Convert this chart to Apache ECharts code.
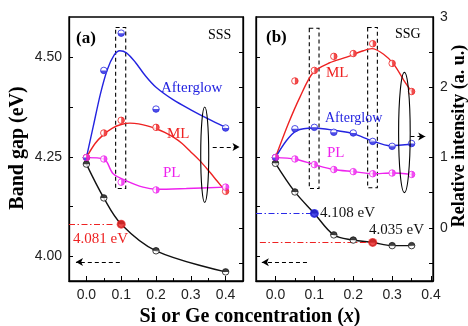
<!DOCTYPE html>
<html><head><meta charset="utf-8">
<script src="https://cdn.jsdelivr.net/npm/echarts@6/dist/echarts.min.js"></script>
<style>html,body{margin:0;padding:0;background:#fff}#c{width:468px;height:326px}</style>
</head><body><div id="c"></div>
<script>
// ---------- Panel (a) SSS ----------
const xA = [0, 0.05, 0.1, 0.2, 0.4];
const gapA = [4.232, 4.147, 4.081, 4.014, 3.961];
const aftA = [1.0, 2.24, 2.77, 1.69, 1.42];
const mlA  = [1.0, 1.35, 1.53, 1.43, 0.52];
const plA  = [1.0, 0.98, 0.65, 0.54, 0.58];
// fitted curves (a)
const aftFitAx = [0, 0.02, 0.04, 0.06, 0.08, 0.096, 0.115, 0.14, 0.17, 0.2, 0.25, 0.3, 0.35, 0.40];
const aftFitAy = [1.0, 1.45, 1.9, 2.25, 2.46, 2.52, 2.49, 2.36, 2.16, 2.0, 1.82, 1.68, 1.55, 1.43];
const mlFitAx  = [0, 0.025, 0.05, 0.075, 0.1, 0.125, 0.15, 0.175, 0.2, 0.225, 0.25, 0.275, 0.3, 0.325, 0.35, 0.375, 0.4];
const mlFitAy  = [1.0, 1.2, 1.33, 1.42, 1.47, 1.49, 1.48, 1.45, 1.41, 1.36, 1.29, 1.2, 1.08, 0.96, 0.82, 0.67, 0.52];
const plFitAx  = [0, 0.05, 0.077, 0.115, 0.163, 0.2, 0.287, 0.4];
const plFitAy  = [1.0, 0.98, 0.77, 0.67, 0.58, 0.55, 0.56, 0.58];

// ---------- Panel (b) SSG ----------
const xB = [0, 0.05, 0.1, 0.15, 0.2, 0.25, 0.3, 0.35];
const gapB = [4.234, 4.162, 4.108, 4.054, 4.041, 4.035, 4.027, 4.027];
const mlB  = [1.0, 2.09, 2.24, 2.44, 2.48, 2.62, 2.34, 1.94];
const aftB = [1.0, 1.41, 1.43, 1.36, 1.35, 1.23, 1.16, 1.20];
const plB  = [1.0, 0.98, 0.90, 0.83, 0.80, 0.77, 0.78, 0.76];
const mlFitBx  = [0, 0.033, 0.063, 0.097, 0.14, 0.183, 0.226, 0.248, 0.278, 0.304, 0.33, 0.351];
const mlFitBy  = [1.0, 1.48, 1.86, 2.21, 2.35, 2.43, 2.52, 2.55, 2.47, 2.33, 2.10, 1.93];
const aftFitBx = [0, 0.028, 0.054, 0.097, 0.149, 0.2, 0.248, 0.295, 0.351];
const aftFitBy = [1.0, 1.24, 1.38, 1.42, 1.39, 1.34, 1.24, 1.17, 1.19];

// ---------- axes ticks ----------
const xTicks = [0, 0.1, 0.2, 0.3, 0.4];
const xMinor = [0.05, 0.15, 0.25, 0.35];
const gapTicks = [4.0, 4.125, 4.25, 4.375, 4.5];
const gapLabels = [4.0, 4.25, 4.5];
const intTicks = [-0.5, 0, 0.5, 1, 1.5, 2, 2.5];
const intLabels = [0, 1, 2, 3];

const COL = {blue: '#2323e0', red: '#ee2222', mag: '#ee22ee', black: '#111111'};
const SERIF = '"Liberation Serif", "Times New Roman", serif';
const SANS = '"Liberation Sans", Arial, sans-serif';

const zip = (xs, ys) => xs.map((x, i) => [x, ys[i]]);

const HALF = {
  bottom: {path: 'path://M0,0L2,0C2,1.333 0,1.333 0,0Z', off: [0, 1.6]},
  top: {path: 'path://M0,0L2,0C2,-1.333 0,-1.333 0,0Z', off: [0, -1.6]},
  left: {path: 'path://M0,0L0,2C-1.333,2 -1.333,0 0,0Z', off: [-1.6, 0]},
  right: {path: 'path://M0,0L0,2C1.333,2 1.333,0 0,0Z', off: [1.6, 0]}
};

function markers(xs, ys, color, half, xi, yi) {
  const d = zip(xs, ys);
  return [
    {type: 'scatter', xAxisIndex: xi, yAxisIndex: yi, data: d, symbol: 'circle', symbolSize: 6.5,
     itemStyle: {color: '#fff', borderColor: color, borderWidth: 1}, z: 5, silent: true},
    {type: 'scatter', xAxisIndex: xi, yAxisIndex: yi, data: d, symbol: HALF[half].path, symbolKeepAspect: true,
     symbolSize: 6.5, symbolOffset: HALF[half].off, itemStyle: {color: color}, z: 6, silent: true}
  ];
}
function curve(xs, ys, color, xi, yi, smooth) {
  return {type: 'line', xAxisIndex: xi, yAxisIndex: yi, data: zip(xs, ys), smooth: smooth,
    showSymbol: false, symbol: 'none', lineStyle: {color: color, width: 1.4}, z: 3, silent: true};
}
function xAxes(grid, max) {
  return [
    {type: 'value', gridIndex: grid, min: -0.05, max: max, position: 'bottom',
     axisLine: {onZero: false, lineStyle: {color: '#000', width: 1.3}},
     axisTick: {inside: true, length: 5, customValues: xTicks, lineStyle: {color: '#000', width: 1}},
     axisLabel: {customValues: xTicks, formatter: v => v.toFixed(1), fontFamily: SANS, fontSize: 14, color: '#222', margin: 7},
     splitLine: {show: false}},
    {type: 'value', gridIndex: grid, min: -0.05, max: max, position: 'bottom',
     axisLine: {show: false, onZero: false},
     axisTick: {inside: true, length: 3, customValues: xMinor, lineStyle: {color: '#000', width: 1}},
     axisLabel: {show: false}, splitLine: {show: false}}
  ];
}
function yAxes(grid, gapLbl, intLbl) {
  return [
    {type: 'value', gridIndex: grid, min: 3.938, max: 4.602, position: 'left',
     axisLine: {show: true, onZero: false, lineStyle: {color: '#000', width: 1.3}},
     axisTick: {show: true, inside: true, length: 4, customValues: gapTicks, lineStyle: {color: '#000', width: 1}},
     axisLabel: {show: gapLbl, customValues: gapLabels, formatter: v => v.toFixed(2), fontFamily: SANS, fontSize: 14, color: '#222', margin: 7},
     splitLine: {show: false}},
    {type: 'value', gridIndex: grid, min: -0.756, max: 3.0, position: 'right',
     axisLine: {show: true, onZero: false, lineStyle: {color: '#000', width: 1.3}},
     axisTick: {show: true, inside: true, length: 4, customValues: intTicks, lineStyle: {color: '#000', width: 1}},
     axisLabel: {show: intLbl, customValues: intLabels, formatter: v => String(v), fontFamily: SANS, fontSize: 14, color: '#222', margin: 7},
     splitLine: {show: false}}
  ];
}

// annotation helpers (data coordinates)
function dashLine(from, to, color, dash, arrow) {
  return [{coord: from, lineStyle: {color: color, type: dash, width: 1.1}}, {coord: to, symbol: arrow ? 'arrow' : 'none'}];
}
function rectArea(x0, x1, y0, y1) {
  return [{coord: [x0, y1]}, {coord: [x1, y0]}];
}
const DASH = [4, 3];
const DASHDOT = [6, 2.5, 1.5, 2.5];

const series = [
  // panel a
  curve(xA, gapA, COL.black, 0, 0, 0.35),
  curve(aftFitAx, aftFitAy, COL.blue, 0, 1, 0.3),
  curve(mlFitAx, mlFitAy, COL.red, 0, 1, 0.3),
  curve(plFitAx, plFitAy, COL.mag, 0, 1, 0.35),
  ...markers(xA, gapA, COL.black, 'top', 0, 0),
  ...markers(xA, aftA, COL.blue, 'bottom', 0, 1),
  ...markers(xA, mlA, COL.red, 'right', 0, 1),
  ...markers(xA, plA, COL.mag, 'right', 0, 1),
  {type: 'scatter', xAxisIndex: 0, yAxisIndex: 0, data: [[xA[2], gapA[2]]], symbol: 'circle', symbolSize: 9,
   itemStyle: {color: COL.red}, z: 8, silent: true,
   markLine: {silent: true, symbol: ['none', 'none'], label: {show: false}, animation: false,
     data: [dashLine([-0.05, gapA[2]], [xA[2] - 0.02, gapA[2]], COL.red, DASHDOT, false)]}},
  {type: 'line', xAxisIndex: 0, yAxisIndex: 1, data: [], silent: true,
   markLine: {silent: true, symbol: ['none', 'arrow'], symbolSize: [6, 7], label: {show: false}, animation: false,
     data: [dashLine([0.363, 1.15], [0.44, 1.15], '#000', DASH, true)]},
   markArea: {silent: true, itemStyle: {color: 'rgba(0,0,0,0)', borderColor: '#000', borderWidth: 1.1, borderType: DASH},
     data: [rectArea(0.084, 0.113, 0.56, 2.85)]}},
  {type: 'line', xAxisIndex: 0, yAxisIndex: 0, data: [], silent: true,
   markLine: {silent: true, symbol: ['none', 'arrow'], symbolSize: [6, 7], label: {show: false}, animation: false,
     data: [dashLine([0.096, 3.986], [-0.03, 3.986], '#000', DASH, true)]}},

  // panel b
  curve(xB, gapB, COL.black, 2, 2, 0.35),
  curve(mlFitBx, mlFitBy, COL.red, 2, 3, 0.3),
  curve(aftFitBx, aftFitBy, COL.blue, 2, 3, 0.3),
  curve(xB, plB, COL.mag, 2, 3, 0.3),
  ...markers(xB, gapB, COL.black, 'top', 2, 2),
  ...markers(xB, mlB, COL.red, 'right', 2, 3),
  ...markers(xB, aftB, COL.blue, 'bottom', 2, 3),
  ...markers(xB, plB, COL.mag, 'right', 2, 3),
  {type: 'scatter', xAxisIndex: 2, yAxisIndex: 2, data: [[xB[2], gapB[2]]], symbol: 'circle', symbolSize: 9,
   itemStyle: {color: '#1e1ee8'}, z: 8, silent: true,
   markLine: {silent: true, symbol: ['none', 'none'], label: {show: false}, animation: false,
     data: [dashLine([-0.05, gapB[2]], [xB[2] - 0.005, gapB[2]], '#2a2ae8', DASHDOT, false)]}},
  {type: 'scatter', xAxisIndex: 2, yAxisIndex: 2, data: [[xB[5], gapB[5]]], symbol: 'circle', symbolSize: 9,
   itemStyle: {color: COL.red}, z: 8, silent: true,
   markLine: {silent: true, symbol: ['none', 'none'], label: {show: false}, animation: false,
     data: [dashLine([-0.04, gapB[5]], [xB[5] - 0.005, gapB[5]], COL.red, DASHDOT, false)]}},
  {type: 'line', xAxisIndex: 2, yAxisIndex: 3, data: [], silent: true,
   markLine: {silent: true, symbol: ['none', 'arrow'], symbolSize: [6, 7], label: {show: false}, animation: false,
     data: [dashLine([0.347, 1.30], [0.385, 1.30], '#000', DASH, true)]},
   markArea: {silent: true, itemStyle: {color: 'rgba(0,0,0,0)', borderColor: '#000', borderWidth: 1.1, borderType: DASH},
     data: [rectArea(0.087, 0.112, 0.56, 2.84), rectArea(0.237, 0.262, 0.57, 2.85)]}},
  {type: 'line', xAxisIndex: 2, yAxisIndex: 2, data: [], silent: true,
   markLine: {silent: true, symbol: ['none', 'arrow'], symbolSize: [6, 7], label: {show: false}, animation: false,
     data: [dashLine([0.081, 3.985], [-0.035, 3.985], '#000', DASH, true)]}}
];

const chart = echarts.init(document.getElementById('c'), null, {renderer: 'canvas'});
const option = {
  animation: false,
  backgroundColor: '#fff',
  grid: [
    {left: 69, right: 225, top: 17, bottom: 45, show: true, borderColor: '#000', borderWidth: 1.3, backgroundColor: 'transparent', containLabel: false, outerBoundsMode: 'none'},
    {left: 256, right: 35, top: 17, bottom: 45, show: true, borderColor: '#000', borderWidth: 1.3, backgroundColor: 'transparent', containLabel: false, outerBoundsMode: 'none'}
  ],
  xAxis: [...xAxes(0, 0.45), ...xAxes(1, 0.405)],
  yAxis: [...yAxes(0, true, false), ...yAxes(1, false, true)],
  series: series
};
chart.setOption(option);

// text annotations and ellipses
function txt(s, x, y, color, size, bold, align) {
  return {type: 'text', silent: true, z: 20, style: {text: s, x: x, y: y, fill: color,
    font: (bold ? 'bold ' : '') + size + 'px ' + SERIF, textAlign: align || 'left', textVerticalAlign: 'middle'}};
}
function ellipse(xi, yi, cx, cy, rxPx, ryVal) {
  const px = chart.convertToPixel({xAxisIndex: xi}, cx);
  const py = chart.convertToPixel({yAxisIndex: yi}, cy);
  const py2 = chart.convertToPixel({yAxisIndex: yi}, cy + ryVal);
  return {type: 'ellipse', silent: true, z: 20, shape: {cx: px, cy: py, rx: rxPx, ry: Math.abs(py - py2)},
    style: {fill: null, stroke: '#000', lineWidth: 1.1}};
}
chart.setOption({graphic: [
  txt('(a)', 76, 38.5, '#000', 17, true),
  txt('SSS', 208, 35, '#000', 14, false),
  txt('(b)', 266, 38, '#000', 17, true),
  txt('SSG', 395, 34.5, '#000', 14, false),
  txt('Afterglow', 161, 88, COL.blue, 15, false),
  txt('ML', 167, 134, COL.red, 15, false),
  txt('PL', 163, 173, COL.mag, 15, false),
  txt('4.081 eV', 73, 239.5, COL.red, 15, false),
  txt('ML', 326, 73, COL.red, 15, false),
  txt('Afterglow', 325, 118.5, COL.blue, 14, false),
  txt('PL', 327, 153.5, COL.mag, 15, false),
  txt('4.108 eV', 320, 213.5, '#111', 15, false),
  txt('4.035 eV', 369, 230.5, '#111', 15, false),
  ellipse(0, 1, 0.34, 1.04, 4, 0.68),
  ellipse(2, 3, 0.3315, 1.357, 5.8, 0.855),
  {type: 'text', silent: true, x: 18, y: 148, rotation: Math.PI / 2,
   style: {text: 'Band gap (eV)', x: 0, y: 0, fill: '#000', font: 'bold 20px ' + SERIF, textAlign: 'center', textVerticalAlign: 'middle'}},
  {type: 'text', silent: true, x: 459, y: 136, rotation: Math.PI / 2,
   style: {text: 'Relative intensity (a. u.)', x: 0, y: 0, fill: '#000', font: 'bold 18px ' + SERIF, textAlign: 'center', textVerticalAlign: 'middle'}},
  {type: 'text', silent: true, x: 250, y: 317,
   style: {text: '{a|Si or Ge concentration (}{b|x}{a|)}', x: 0, y: 0, fill: '#000', textAlign: 'center', textVerticalAlign: 'middle',
     rich: {a: {font: 'bold 20px ' + SERIF, fill: '#000'}, b: {font: 'bold italic 20px ' + SERIF, fill: '#000'}}}}
]});
</script>
</body></html>
